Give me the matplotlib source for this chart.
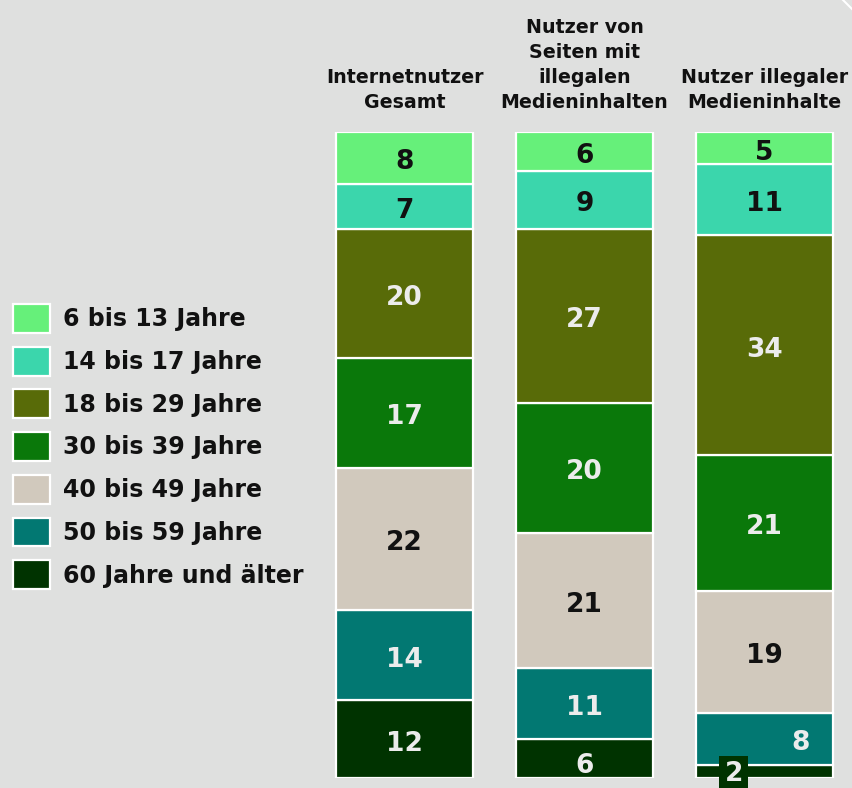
import matplotlib
matplotlib.use("Agg")
import matplotlib.pyplot as plt
import matplotlib.transforms as mtrans
import numpy as np
from matplotlib.patches import Patch
from matplotlib.lines import Line2D

plt.rcParams['font.family'] = ['DejaVu Sans']

groups = ["Internetnutzer\nGesamt",
          "Nutzer von\nSeiten mit\nillegalen\nMedieninhalten",
          "Nutzer illegaler\nMedieninhalte"]
age_classes = ["6 bis 13 Jahre", "14 bis 17 Jahre", "18 bis 29 Jahre",
               "30 bis 39 Jahre", "40 bis 49 Jahre", "50 bis 59 Jahre",
               "60 Jahre und älter"]
# values per group, order = age_classes (top to bottom)
gesamt = [8, 7, 20, 17, 22, 14, 12]
seiten = [6, 9, 27, 20, 21, 11, 6]
illegal = [5, 11, 34, 21, 19, 8, 2]

colors = ["#66f07a", "#3bd6ac", "#586b08", "#0a780a", "#d1c9bd", "#027872", "#003300"]
text_colors = ["#111111", "#111111", "#ececec", "#ececec", "#111111", "#ececec", "#ececec"]
BG = "#dfe0df"

data = np.array([gesamt, seiten, illegal])

fig = plt.figure(figsize=(8.52, 7.88), dpi=100)
fig.patch.set_facecolor(BG)

ax = fig.add_axes([0, 10/788, 1, 646/788])
ax.patch.set_alpha(0)
x = np.arange(len(groups))
ax.set_xlim(-404.5/180, (852-404.5)/180)
ax.set_ylim(0, 100)
ax.axis('off')

width = 137/180
n = len(age_classes)
for gi in range(len(groups)):
    bottom = 0.0
    for ci in range(n - 1, -1, -1):
        v = data[gi, ci]
        ax.bar(x[gi], v, width=width, bottom=bottom, color=colors[ci],
               edgecolor="white", linewidth=1.6, zorder=2)
        bottom += v

special = {(2, 5): (26, -0.8), (2, 6): (-22, 0.5), (1, 6): (0, -3.5)}
for gi in range(len(groups)):
    bottom = 0.0
    for ci in range(n - 1, -1, -1):
        v = data[gi, ci]
        center = bottom + v / 2
        dx, dy = special.get((gi, ci), (0, -1))
        kw = {}
        if (gi, ci) == (2, 6):
            kw['bbox'] = dict(boxstyle='square,pad=0.2', fc=colors[ci], ec='none')
        ax.annotate(str(v), (x[gi], center), xytext=(dx, dy), textcoords='offset points',
                    ha='center', va='center_baseline', fontsize=19, fontweight='bold',
                    color=text_colors[ci], zorder=5, annotation_clip=False, **kw)
        bottom += v

title_tr = mtrans.blended_transform_factory(ax.transData, fig.transFigure)
for gi, g in enumerate(groups):
    ax.text(x[gi], 1 - 112/788, g, transform=title_tr, ha='center', va='bottom',
            fontsize=13.7, fontweight='bold', color='#111111', linespacing=1.39)

handles = [Patch(facecolor=c, edgecolor='white', linewidth=1.6) for c in colors]
leg = fig.legend(handles, age_classes, loc='upper left',
                 bbox_to_anchor=(13/852, 1 - 304/788), frameon=False,
                 prop={'size': 17, 'weight': 'bold'}, handlelength=1.58,
                 handleheight=1.5, labelspacing=0.59, handletextpad=0.55,
                 borderpad=0, borderaxespad=0)
for txt in leg.get_texts():
    txt.set_color('#111111')

fig.add_artist(Line2D([843/852, 1.0], [1.0, 1 - 9/788], color='white', lw=1.5,
                      transform=fig.transFigure))

fig.savefig("out.png", dpi=100, facecolor=BG)
